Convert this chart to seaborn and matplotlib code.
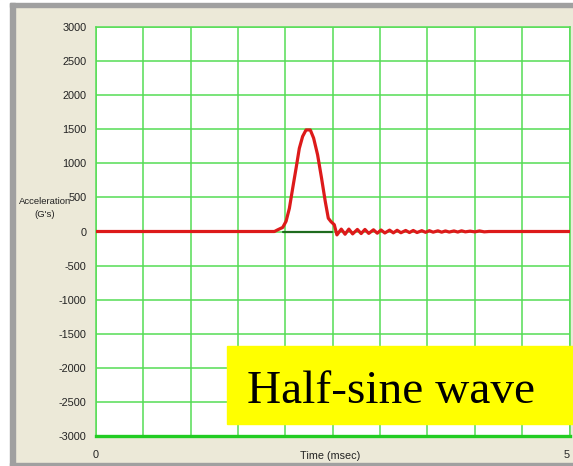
import matplotlib
matplotlib.use('Agg')
import pandas as pd
import seaborn as sns
import matplotlib.pyplot as plt
from matplotlib.patches import Rectangle

# shock pulse (time in msec, acceleration in G's)
time_ms = [0.0, 1.884, 1.919, 1.972, 2.007, 2.042, 2.077, 2.113, 2.147, 2.182,
           2.218, 2.263, 2.298, 2.340, 2.382, 2.421, 2.453, 2.481, 2.516, 2.544,
           2.59, 2.63, 2.67, 2.71, 2.76, 2.80, 2.84, 2.88, 2.93, 2.97,
           3.01, 3.05, 3.10, 3.14, 3.18, 3.22, 3.27, 3.31, 3.35, 3.39,
           3.44, 3.48, 3.52, 3.56, 3.61, 3.65, 3.69, 3.73, 3.78, 3.82,
           3.86, 3.90, 3.95, 4.00, 4.05, 4.10, 4.15, 5.0]
accel_g = [0, 0, 25, 60, 150, 340, 635, 930, 1220, 1395,
           1490, 1490, 1370, 1125, 780, 440, 195, 145, 100, -50,
           35, -40, 35, -35, 30, -30, 30, -28, 25, -25,
           22, -22, 20, -20, 18, -18, 15, -15, 15, -15,
           12, -12, 12, -10, 10, -10, 8, -8, 8, -8,
           10, -5, 5, -5, 8, -5, 0, 0]

# dark green reference segment under the pulse
ref_time = [1.97, 2.49]
ref_accel = [0, 0]

y_ticks = list(range(-3000, 3001, 500))
x_ticks = [i * 0.5 for i in range(11)]

GRID = '#55DD55'
BG = '#ECE9D8'


def main():
    sns.set_style('white')
    plt.rcParams['font.family'] = ['Liberation Sans', 'DejaVu Sans']

    fig = plt.figure(figsize=(5.73, 4.66), dpi=100)
    fig.patch.set_facecolor(BG)
    W, H = 573, 466

    # window frame
    fig.patches.append(Rectangle((0, 0), 10 / W, 1, transform=fig.transFigure,
                                 color='white', zorder=0))
    fig.patches.append(Rectangle((0, 1 - 3 / H), 1, 3 / H, transform=fig.transFigure,
                                 color='white', zorder=0))
    fig.patches.append(Rectangle((10 / W, 0), 5 / W, 1 - 3 / H, transform=fig.transFigure,
                                 color='#A0A0A0', zorder=0))
    fig.patches.append(Rectangle((10 / W, 1 - 7 / H), 1, 4 / H, transform=fig.transFigure,
                                 color='#A0A0A0', zorder=0))
    fig.patches.append(Rectangle((10 / W, 0), 1, 3 / H, transform=fig.transFigure,
                                 color='#A0A0A0', zorder=0))

    ax = fig.add_axes([96 / W, 30 / H, 473.5 / W, 409 / H])
    ax.set_facecolor('white')

    df = pd.DataFrame({'time': time_ms, 'accel': accel_g})
    sns.lineplot(data=df, x='time', y='accel', ax=ax, color='#DD1A1A',
                 linewidth=2.3, sort=False, estimator=None, zorder=3)
    ref = pd.DataFrame({'time': ref_time, 'accel': ref_accel})
    sns.lineplot(data=ref, x='time', y='accel', ax=ax, color='#1E6B1E',
                 linewidth=1.6, sort=False, estimator=None, zorder=4)

    ax.set_xlim(0, 5)
    ax.set_ylim(-3000, 3000)
    ax.set_xticks(x_ticks)
    ax.set_xticklabels(['0'] + [''] * 9 + ['5'])
    ax.set_yticks(y_ticks)
    ax.set_yticklabels([str(v) for v in y_ticks])
    ax.tick_params(length=0, labelsize=7.8, colors='#222222')
    ax.tick_params(axis='x', pad=10)
    ax.tick_params(axis='y', pad=7)
    ax.get_xticklabels()[-1].set_ha('right')
    ax.grid(True, color=GRID, linewidth=1.1)
    ax.set_axisbelow(True)
    for side in ['left', 'right', 'top']:
        ax.spines[side].set_color(GRID)
        ax.spines[side].set_linewidth(1.1)
    ax.spines['bottom'].set_color('#22CC22')
    ax.spines['bottom'].set_linewidth(2.4)
    ax.set_xlabel('')
    ax.set_ylabel('')

    fig.text(330 / W, 1 - 456 / H, 'Time (msec)', ha='center', va='center',
             fontsize=7.8, color='#222222')
    fig.text(45 / W, 1 - 208 / H, 'Acceleration\n(G\'s)', ha='center', va='center',
             fontsize=6.8, color='#222222', linespacing=1.45)

    # yellow caption box
    fig.patches.append(Rectangle((227 / W, 1 - 424 / H), (W - 227) / W, 78 / H,
                                 transform=fig.transFigure, color='#FFFF00', zorder=5))
    fig.text(247 / W, 1 - 403 / H, 'Half-sine wave', ha='left', va='baseline',
             fontsize=34, family=['Liberation Serif', 'DejaVu Serif'], color='black',
             zorder=6)

    fig.savefig('out.png', dpi=100, facecolor=fig.get_facecolor())


if __name__ == '__main__':
    main()
